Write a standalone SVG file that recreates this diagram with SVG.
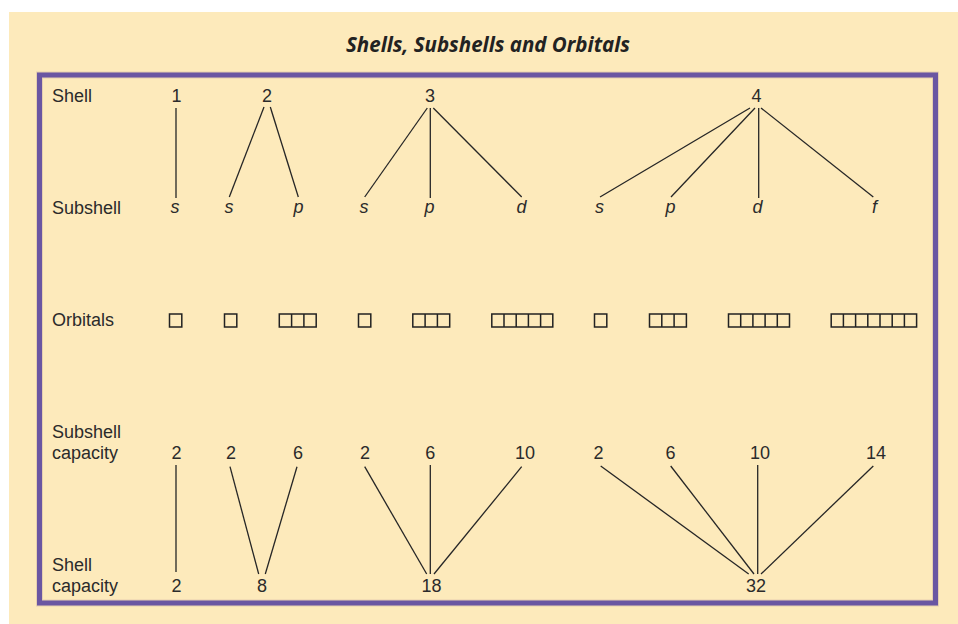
<svg xmlns="http://www.w3.org/2000/svg" width="958" height="624" viewBox="0 0 958 624">
<style>
.t{font-family:"Liberation Sans","DejaVu Sans",sans-serif;font-size:18px;fill:#2b2b2b}
.c{text-anchor:middle}
.i{font-style:italic}
.ttl{font-family:"Open Sans","Liberation Sans",sans-serif;font-size:21px;font-weight:bold;font-style:italic;fill:#222}
.ln{stroke:#262626;stroke-width:1.3;fill:none}
.bx{stroke:#222;stroke-width:1.5;fill:none}
</style>
<rect x="0" y="0" width="958" height="624" fill="#ffffff"/>
<rect x="9" y="12" width="949" height="612" fill="#fdeabb"/>
<text class="ttl" x="346" y="52" textLength="284" lengthAdjust="spacingAndGlyphs">Shells, Subshells and Orbitals</text>
<rect x="39.5" y="75" width="896" height="528" fill="none" stroke="#e6cfb0" stroke-width="7"/>
<rect x="39.5" y="75" width="896" height="528" fill="none" stroke="#6a56a2" stroke-width="5"/>

<g id="labels">
<text class="t" x="52" y="102">Shell</text>
<text class="t" x="52" y="214">Subshell</text>
<text class="t" x="52" y="326">Orbitals</text>
<text class="t" x="52" y="438">Subshell</text>
<text class="t" x="52" y="459">capacity</text>
<text class="t" x="52" y="571">Shell</text>
<text class="t" x="52" y="592">capacity</text>
</g>

<g id="shells">
<text class="t c" x="176.5" y="102">1</text>
<text class="t c" x="267" y="102">2</text>
<text class="t c" x="430" y="102">3</text>
<text class="t c" x="756.5" y="102">4</text>
</g>

<g id="subshells">
<text class="t c i" x="175" y="213">s</text>
<text class="t c i" x="229" y="213">s</text>
<text class="t c i" x="298.5" y="213">p</text>
<text class="t c i" x="364" y="213">s</text>
<text class="t c i" x="429.5" y="213">p</text>
<text class="t c i" x="521.5" y="213">d</text>
<text class="t c i" x="599.5" y="213">s</text>
<text class="t c i" x="670.5" y="213">p</text>
<text class="t c i" x="757.5" y="213">d</text>
<text class="t c i" x="874.5" y="213">f</text>
</g>

<g id="orbitals">
<rect class="bx" x="169.5" y="314" width="12.3" height="13"/>
<rect class="bx" x="224.5" y="314" width="12.3" height="13"/>
<path class="bx" d="M279.3 314h36.9v13h-36.9zM291.6 314v13M303.9 314v13"/>
<rect class="bx" x="358.5" y="314" width="12.3" height="13"/>
<path class="bx" d="M412.8 314h36.9v13h-36.9zM425.1 314v13M437.4 314v13"/>
<path class="bx" d="M491.8 314h61v13h-61zM504 314v13M516.2 314v13M528.4 314v13M540.6 314v13"/>
<rect class="bx" x="594.5" y="314" width="12.3" height="13"/>
<path class="bx" d="M649.5 314h36.9v13h-36.9zM661.8 314v13M674.1 314v13"/>
<path class="bx" d="M728.5 314h61v13h-61zM740.7 314v13M752.9 314v13M765.1 314v13M777.3 314v13"/>
<path class="bx" d="M831.2 314h85.4v13h-85.4zM843.4 314v13M855.6 314v13M867.8 314v13M880 314v13M892.2 314v13M904.4 314v13"/>
</g>

<g id="subshell-capacity">
<text class="t c" x="176.5" y="459">2</text>
<text class="t c" x="231" y="459">2</text>
<text class="t c" x="298" y="459">6</text>
<text class="t c" x="365" y="459">2</text>
<text class="t c" x="430.3" y="459">6</text>
<text class="t c" x="525" y="459">10</text>
<text class="t c" x="598.5" y="459">2</text>
<text class="t c" x="670.5" y="459">6</text>
<text class="t c" x="760" y="459">10</text>
<text class="t c" x="876" y="459">14</text>
</g>

<g id="shell-capacity">
<text class="t c" x="176.5" y="592">2</text>
<text class="t c" x="262" y="592">8</text>
<text class="t c" x="431.5" y="592">18</text>
<text class="t c" x="756" y="592">32</text>
</g>

<g id="connectors">
<line class="ln" x1="176" y1="108" x2="176" y2="198"/>
<line class="ln" x1="264" y1="107" x2="229.3" y2="197"/>
<line class="ln" x1="270.3" y1="107" x2="298.3" y2="197"/>
<line class="ln" x1="427.3" y1="108" x2="364.7" y2="197"/>
<line class="ln" x1="430.3" y1="108" x2="430.3" y2="198"/>
<line class="ln" x1="433.3" y1="108" x2="521.7" y2="197"/>
<line class="ln" x1="750" y1="108" x2="600" y2="197"/>
<line class="ln" x1="755" y1="108" x2="671" y2="197"/>
<line class="ln" x1="758.7" y1="108" x2="758.7" y2="198"/>
<line class="ln" x1="761" y1="108" x2="873.3" y2="197"/>

<line class="ln" x1="176" y1="465" x2="176" y2="572"/>
<line class="ln" x1="230" y1="466.7" x2="258.7" y2="574"/>
<line class="ln" x1="297" y1="466.7" x2="265.3" y2="574"/>
<line class="ln" x1="364.7" y1="466.7" x2="426.7" y2="574"/>
<line class="ln" x1="430.3" y1="465" x2="430.3" y2="574"/>
<line class="ln" x1="521.7" y1="466.7" x2="434" y2="574"/>
<line class="ln" x1="600.7" y1="466" x2="748.7" y2="574"/>
<line class="ln" x1="670.7" y1="466" x2="754" y2="574"/>
<line class="ln" x1="757.7" y1="465" x2="757.7" y2="574"/>
<line class="ln" x1="873.3" y1="466" x2="761" y2="574"/>
</g>
</svg>
